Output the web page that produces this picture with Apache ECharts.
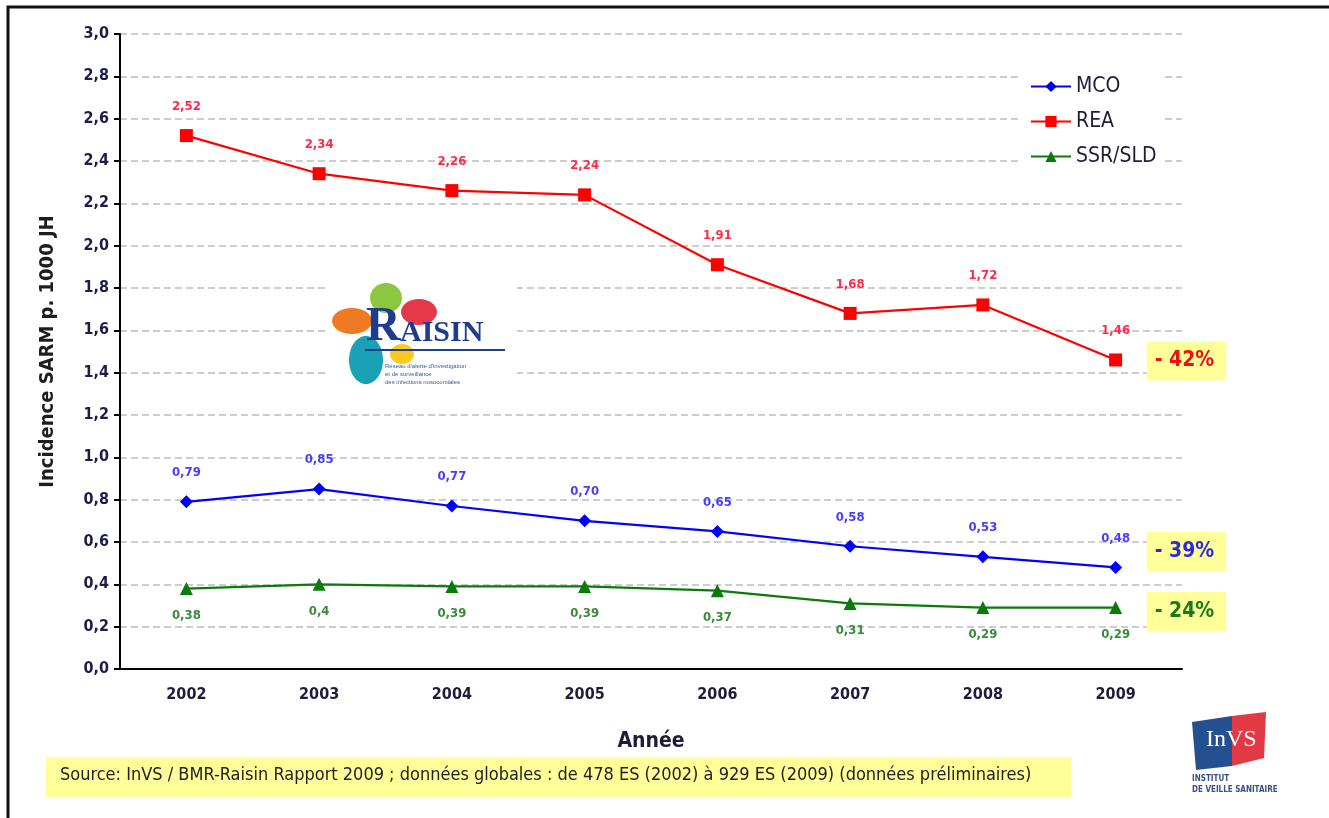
<!DOCTYPE html>
<html>
<head>
<meta charset="utf-8">
<script src="https://cdn.jsdelivr.net/npm/echarts@6/dist/echarts.min.js"></script>
<style>
	html, body { margin: 0; padding: 0; background: #fff; }
	#chart { width: 1329px; height: 818px; }
</style>
</head>
<body>
<div id="chart"></div>
<script>
var years = ['2002', '2003', '2004', '2005', '2006', '2007', '2008', '2009'];
var mco = [0.79, 0.85, 0.77, 0.70, 0.65, 0.58, 0.53, 0.48];
var rea = [2.52, 2.34, 2.26, 2.24, 1.91, 1.68, 1.72, 1.46];
var ssr = [0.38, 0.40, 0.39, 0.39, 0.37, 0.31, 0.29, 0.29];
var seriesNames = ['MCO', 'REA', 'SSR/SLD'];
var evolution = ['- 39%', '- 42%', '- 24%'];
var yTicks = { min: 0, max: 3, step: 0.2 };
var sourceText = 'Source: InVS / BMR-Raisin Rapport 2009 ; données globales : de 478 ES (2002) à 929 ES (2009) (données préliminaires)';

var narrow = "'DejaVu Sans Condensed', 'Liberation Sans Narrow', 'Liberation Sans', sans-serif";

function virgule(v, dec) {
	var s = dec ? v.toFixed(dec) : String(v);
	return s.replace('.', ',');
}

var dom = document.getElementById('chart');
var myChart = echarts.init(dom);

function endBox(text, color, offset) {
	return {
		show: true,
		formatter: text,
		color: color,
		fontFamily: narrow,
		fontSize: 21,
		fontWeight: 'bold',
		backgroundColor: '#ffff99',
		padding: [9, 12, 9, 8],
		distance: 31,
		offset: offset
	};
}

var option = {
	animation: false,
	backgroundColor: '#fff',
	grid: {
		left: 120,
		right: 147,
		top: 34,
		bottom: 149
	},
	legend: {
		orient: 'vertical',
		left: 1022,
		top: 70,
		itemWidth: 40,
		itemHeight: 14,
		itemGap: 14,
		backgroundColor: '#fff',
		padding: [6, 8],
		textStyle: {
			fontFamily: narrow,
			fontSize: 21,
			color: '#1d1d3a'
		},
		data: seriesNames
	},
	xAxis: {
		type: 'category',
		data: years,
		boundaryGap: true,
		name: 'Année',
		nameLocation: 'middle',
		nameGap: 62,
		nameTextStyle: {
			fontFamily: narrow,
			fontSize: 21,
			fontWeight: 'bold',
			color: '#1d1d3a'
		},
		axisLine: { lineStyle: { color: '#000', width: 2 } },
		axisTick: { length: 7, lineStyle: { color: '#000', width: 2 } },
		axisLabel: {
			margin: 18,
			fontFamily: narrow,
			fontSize: 16,
			fontWeight: 'bold',
			color: '#1d1d3a'
		}
	},
	yAxis: {
		type: 'value',
		min: yTicks.min,
		max: yTicks.max,
		interval: yTicks.step,
		name: 'Incidence SARM p. 1000 JH',
		nameLocation: 'middle',
		nameGap: 62,
		nameTextStyle: {
			fontFamily: narrow,
			fontSize: 20,
			fontWeight: 'bold',
			color: '#1d1d1d'
		},
		axisLine: { show: true, lineStyle: { color: '#000', width: 2 } },
		axisTick: { show: true, length: 6, lineStyle: { color: '#000', width: 2 } },
		axisLabel: {
			margin: 11,
			fontFamily: narrow,
			fontSize: 16,
			fontWeight: 'bold',
			color: '#1d1d4a',
			formatter: function (v) { return virgule(v, 1); }
		},
		splitLine: {
			show: true,
			lineStyle: { color: '#bdbdbd', width: 1.5, type: [7, 4] }
		}
	},
	series: [
		{
			name: seriesNames[0],
			type: 'line',
			data: mco,
			color: '#0000ff',
			symbol: 'diamond',
			symbolSize: 13,
			lineStyle: { width: 2.2 },
			label: {
				show: true,
				position: 'top',
				distance: 16,
				fontFamily: narrow,
				fontSize: 13,
				fontWeight: 'bold',
				color: '#4a3cff',
				formatter: function (p) { return virgule(p.value, 2); }
			},
			endLabel: endBox(evolution[0], '#2b2bd9', [0, -16])
		},
		{
			name: seriesNames[1],
			type: 'line',
			data: rea,
			color: '#ff0000',
			symbol: 'rect',
			symbolSize: 13,
			lineStyle: { width: 2.2 },
			label: {
				show: true,
				position: 'top',
				distance: 16,
				fontFamily: narrow,
				fontSize: 13,
				fontWeight: 'bold',
				color: '#ff2a4a',
				formatter: function (p) { return virgule(p.value, 2); }
			},
			endLabel: endBox(evolution[1], '#ee1111', [0, 1])
		},
		{
			name: seriesNames[2],
			type: 'line',
			data: ssr,
			color: '#0a7a0a',
			symbol: 'triangle',
			symbolSize: 13,
			lineStyle: { width: 2.2 },
			label: {
				show: true,
				position: 'bottom',
				distance: 14,
				fontFamily: narrow,
				fontSize: 13,
				fontWeight: 'bold',
				color: '#3a8a3a',
				formatter: function (p) { return virgule(p.value); }
			},
			endLabel: endBox(evolution[2], '#1a7a1a', [0, 4])
		}
	],
	graphic: [
		// cadre
		{
			type: 'polyline',
			z: 20,
			shape: { points: [[8, 830], [8, 7], [1340, 7]] },
			style: { stroke: '#111', lineWidth: 3, fill: null }
		},
		// logo RAISIN
		{ type: 'rect', z: 10, shape: { x: 325, y: 276, width: 192, height: 118 }, style: { fill: '#fff' } },
		{ type: 'ellipse', z: 11, shape: { cx: 386, cy: 298, rx: 16, ry: 15 }, style: { fill: '#8dc63f' } },
		{ type: 'ellipse', z: 11, shape: { cx: 419, cy: 312, rx: 18, ry: 13 }, style: { fill: '#e5384a' } },
		{ type: 'ellipse', z: 11, shape: { cx: 352, cy: 321, rx: 20, ry: 13 }, style: { fill: '#f07a22' } },
		{ type: 'ellipse', z: 11, shape: { cx: 366, cy: 360, rx: 17, ry: 24 }, style: { fill: '#19a2b6' } },
		{ type: 'ellipse', z: 11, shape: { cx: 402, cy: 354, rx: 12, ry: 10 }, style: { fill: '#ffc81a' } },
		{
			type: 'text', z: 12, left: 366, top: 304,
			style: { text: 'R', fontFamily: "'Liberation Serif', serif", fontSize: 48, fontWeight: 'bold', fill: '#1f3d8f' }
		},
		{
			type: 'text', z: 12, left: 400, top: 318,
			style: { text: 'AISIN', fontFamily: "'Liberation Serif', serif", fontSize: 30, fontWeight: 'bold', fill: '#1f3d8f' }
		},
		{ type: 'rect', z: 12, shape: { x: 365, y: 349, width: 140, height: 2 }, style: { fill: '#1f3d8f' } },
		{
			type: 'text', z: 12, left: 385, top: 362,
			style: {
				text: "Réseau d'alerte d'investigation\net de surveillance\ndes infections nosocomiales",
				fontFamily: 'sans-serif', fontSize: 6, lineHeight: 8, fill: '#3558a8'
			}
		},
		// logo InVS
		{
			type: 'polygon', z: 10,
			shape: { points: [[1192, 722], [1232, 716], [1232, 766], [1196, 770]] },
			style: { fill: '#24508f' }
		},
		{
			type: 'polygon', z: 10,
			shape: { points: [[1232, 716], [1266, 712], [1264, 758], [1232, 766]] },
			style: { fill: '#e23a44' }
		},
		{
			type: 'text', z: 11, left: 1206, top: 728,
			style: { text: 'InVS', fontFamily: "'Liberation Serif', serif", fontSize: 24, fill: '#fff' }
		},
		{
			type: 'text', z: 11, left: 1192, top: 773,
			style: {
				text: 'INSTITUT\nDE VEILLE SANITAIRE',
				fontFamily: narrow, fontSize: 8, lineHeight: 11, fontWeight: 'bold', fill: '#3a4f8a'
			}
		},
		// source
		{ type: 'rect', z: 10, shape: { x: 46, y: 757, width: 1025, height: 40 }, style: { fill: '#ffff99' } },
		{
			type: 'text', z: 11, left: 60, top: 766,
			style: { text: sourceText, fontFamily: narrow, fontSize: 18, fill: '#222' }
		}
	]
};

if (option && typeof option === 'object') {
	myChart.setOption(option, true);
}
</script>
</body>
</html>
